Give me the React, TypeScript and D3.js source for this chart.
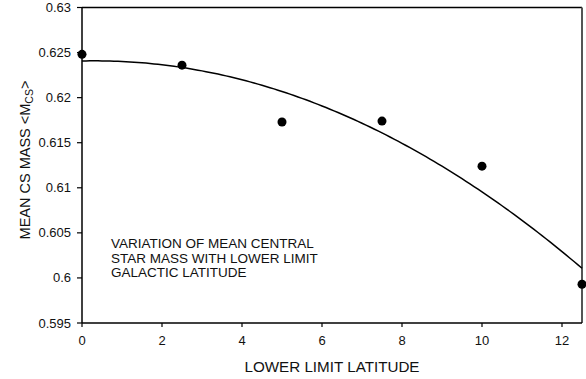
import React from "react";
import * as d3 from "d3";

const latitudes = [0, 2.5, 5, 7.5, 10, 12.5];
const meanMass = [0.6248, 0.6236, 0.6173, 0.6174, 0.6124, 0.5993];
const xTicks = [0, 2, 4, 6, 8, 10, 12];
const yTicks = [0.595, 0.6, 0.605, 0.61, 0.615, 0.62, 0.625, 0.63];
const noteLines = [
  "VARIATION OF MEAN CENTRAL",
  "STAR MASS WITH LOWER LIMIT",
  "GALACTIC LATITUDE",
];

// Least-squares quadratic fit y = a + b x + c x^2
function quadFit(xs: number[], ys: number[]) {
  const n = xs.length;
  let s1 = 0, s2 = 0, s3 = 0, s4 = 0, sy = 0, sxy = 0, sx2y = 0;
  for (let i = 0; i < n; i++) {
    const x = xs[i], y = ys[i];
    s1 += x; s2 += x * x; s3 += x * x * x; s4 += x * x * x * x;
    sy += y; sxy += x * y; sx2y += x * x * y;
  }
  const M = [
    [n, s1, s2, sy],
    [s1, s2, s3, sxy],
    [s2, s3, s4, sx2y],
  ];
  for (let i = 0; i < 3; i++) {
    for (let k = i + 1; k < 3; k++) {
      const f = M[k][i] / M[i][i];
      for (let j = i; j < 4; j++) M[k][j] -= f * M[i][j];
    }
  }
  const r = [0, 0, 0];
  for (let i = 2; i >= 0; i--) {
    let s = M[i][3];
    for (let j = i + 1; j < 3; j++) s -= M[i][j] * r[j];
    r[i] = s / M[i][i];
  }
  return (x: number) => r[0] + r[1] * x + r[2] * x * x;
}

export default function App() {
  const W = 586, H = 379;
  const left = 82, right = 582, top = 7.5, bottom = 323;
  const x = d3.scaleLinear().domain([0, 12.5]).range([left, right]);
  const y = d3.scaleLinear().domain([0.595, 0.63]).range([bottom, top]);
  const fit = quadFit(latitudes, meanMass);
  const fitPts = d3.range(0, 12.5001, 0.1).map((v) => [v, fit(v)] as [number, number]);
  const line = d3.line<[number, number]>().x((d) => x(d[0])).y((d) => y(d[1]));
  const font = "'Liberation Sans', Arial, sans-serif";

  return (
    <svg
      width={W}
      height={H}
      style={{ position: "absolute", left: 0, top: 0, background: "#fff" }}
      fontFamily={font}
    >
      {/* frame */}
      <line x1={left} x2={right} y1={top} y2={top} stroke="#000" strokeWidth={1.5} />
      <line x1={right} x2={right} y1={top} y2={bottom} stroke="#555" strokeWidth={2} />
      <line x1={left} x2={left} y1={top} y2={bottom} stroke="#000" strokeWidth={1.5} />
      <line x1={left} x2={right} y1={bottom} y2={bottom} stroke="#000" strokeWidth={1.5} />

      {/* y axis */}
      {yTicks.map((t) => (
        <g key={"y" + t}>
          <line x1={left - 5} x2={left} y1={y(t)} y2={y(t)} stroke="#000" strokeWidth={1.2} />
          <text x={left - 11} y={y(t)} dy="0.35em" textAnchor="end" fontSize={13} fill="#111">
            {d3.format("")(+t.toFixed(3))}
          </text>
        </g>
      ))}

      {/* x axis */}
      {xTicks.map((t) => (
        <g key={"x" + t}>
          <line x1={x(t)} x2={x(t)} y1={bottom} y2={bottom + 4} stroke="#000" strokeWidth={1.2} />
          <text x={x(t)} y={bottom + 22} textAnchor="middle" fontSize={13} fill="#111">
            {t}
          </text>
        </g>
      ))}

      {/* axis titles */}
      <text x={332} y={371.5} textAnchor="middle" fontSize={15.2} fill="#111">
        LOWER LIMIT LATITUDE
      </text>
      <text
        transform={`translate(30, 160) rotate(-90)`}
        textAnchor="middle"
        fontSize={14.5}
        fill="#111"
      >
        MEAN CS MASS &lt;M
        <tspan fontSize={10.5} dy={3}>CS</tspan>
        <tspan dy={-3}>&gt;</tspan>
      </text>

      {/* fitted curve */}
      <path d={line(fitPts) ?? ""} fill="none" stroke="#000" strokeWidth={1.5} />

      {/* data points */}
      {latitudes.map((lat, i) => (
        <circle key={i} cx={x(lat)} cy={y(meanMass[i])} r={4.5} fill="#000" />
      ))}

      {/* annotation */}
      {noteLines.map((s, i) => (
        <text key={s} x={111} y={248.3 + i * 14.2} fontSize={13.5} fill="#111">
          {s}
        </text>
      ))}
    </svg>
  );
}
